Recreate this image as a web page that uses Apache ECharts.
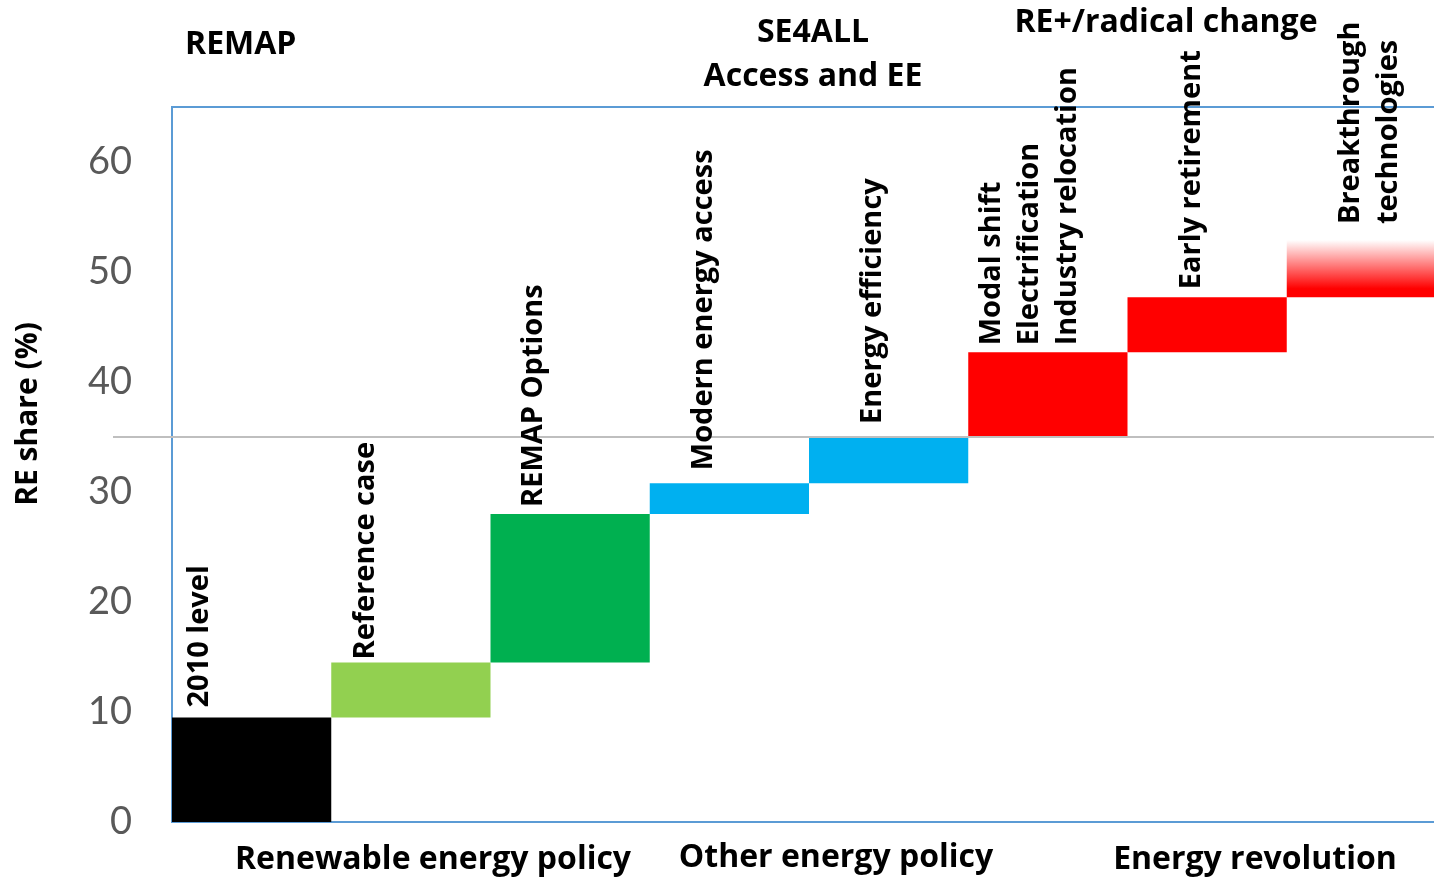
<!DOCTYPE html>
<html>
<head>
<meta charset="utf-8">
<script src="https://cdn.jsdelivr.net/npm/echarts@6/dist/echarts.min.js"></script>
<style>
  html, body { margin: 0; padding: 0; background: #ffffff; overflow: hidden; }
  /* the plot runs slightly past the right edge of the page */
  #chart { width: 1446px; height: 879px; }
</style>
</head>
<body>
<div id="chart"></div>
<script>
// Steps of the RE-share waterfall and the cumulative level (%) reached after each step
const steps = [
  '2010 level',
  'Reference case',
  'REMAP Options',
  'Modern energy access',
  'Energy efficiency',
  'Modal shift\nElectrification\nIndustry relocation',
  'Early retirement',
  'Breakthrough\ntechnologies'
];
const levels = [9.5, 14.5, 28.0, 30.8, 35.0, 42.7, 47.7, 52.9];
const yTicks = [0, 10, 20, 30, 40, 50, 60];
const referenceLevel = 35;
const yTitle = 'RE share (%)';
const topGroups = ['REMAP', 'SE4ALL\nAccess and EE', 'RE+/radical change'];
const bottomGroups = ['Renewable energy policy', 'Other energy policy', 'Energy revolution'];

// Styling
const TEXT_FONT = '"Open Sans", "DejaVu Sans", sans-serif';
const NUM_FONT = 'Lato, "Open Sans", sans-serif';
const barColors = [
  '#000000', '#92D050', '#00B050', '#00B0F0', '#00B0F0', '#FF0000', '#FF0000',
  new echarts.graphic.LinearGradient(0, 0, 0, 1, [
    { offset: 0, color: '#FFFFFF' },
    { offset: 0.85, color: '#FF0000' },
    { offset: 1, color: '#FF0000' }
  ])
];
// horizontal shift of each step caption from its bar centre, and gap above the bar (px)
const labelShift = [-52, -45, -36, -26, -16, -18, -15, 3];
const labelGap = [10, 3, 7, 13, 13, 7, 8, 16];

const bases = levels.map((v, i) => (i === 0 ? 0 : levels[i - 1]));
const increments = levels.map((v, i) => +(v - bases[i]).toFixed(2));

const chart = echarts.init(document.getElementById('chart'), null, { renderer: 'canvas' });

chart.setOption({
  animation: false,
  grid: {
    left: 172, top: 107, bottom: 57, right: 0,
    show: true, borderColor: '#5B9BD5', borderWidth: 2, backgroundColor: 'transparent'
  },
  xAxis: {
    type: 'category',
    data: steps,
    axisLine: { show: false },
    axisTick: { show: false },
    axisLabel: { show: false },
    splitLine: { show: false }
  },
  yAxis: {
    type: 'value',
    min: 0,
    max: 65,
    interval: 10,
    axisLine: { show: false },
    axisTick: { show: false },
    splitLine: { show: false },
    axisLabel: {
      showMaxLabel: false,
      margin: 40,
      color: '#595959',
      fontFamily: NUM_FONT,
      fontSize: 38,
      formatter: v => (yTicks.includes(v) ? String(v) : '')
    }
  },
  series: [
    {
      type: 'bar',
      stack: 'fall',
      silent: true,
      barCategoryGap: '0%',
      itemStyle: { color: 'rgba(0,0,0,0)' },
      data: bases
    },
    {
      type: 'bar',
      stack: 'fall',
      barCategoryGap: '0%',
      data: increments.map((v, i) => ({ value: v, itemStyle: { color: barColors[i] } }))
    }
  ]
});

// Captions standing on top of each step, reading bottom-to-top
const captions = steps.map((name, i) => {
  const p = chart.convertToPixel({ xAxisIndex: 0, yAxisIndex: 0 }, [i, levels[i]]);
  return {
    type: 'text',
    x: p[0] + labelShift[i],
    y: p[1] - labelGap[i],
    rotation: Math.PI / 2,
    z: 110,
    style: {
      text: name, fill: '#000000', font: 'bold 29px ' + TEXT_FONT,
      align: 'left', verticalAlign: 'middle', lineHeight: 38
    }
  };
});

const groupText = (text, x, y, align) => ({
  type: 'text',
  x: x, y: y,
  z: 110,
  style: {
    text: text, fill: '#000000', font: 'bold 32px ' + TEXT_FONT,
    align: align || 'center', verticalAlign: 'middle', lineHeight: 44
  }
});

// Reference line at the 35 % level, running from left of the axis across the plot
const yRef = chart.convertToPixel({ yAxisIndex: 0 }, referenceLevel);

chart.setOption({
  graphic: [
    {
      type: 'line',
      shape: { x1: 113, y1: yRef, x2: 1446, y2: yRef },
      style: { stroke: '#BFBFBF', lineWidth: 2 },
      z: 100
    },
    {
      type: 'text',
      x: 28, y: 414,
      rotation: Math.PI / 2,
      z: 110,
      style: {
        text: yTitle, fill: '#000000', font: 'bold 30px ' + TEXT_FONT,
        align: 'center', verticalAlign: 'middle'
      }
    },
    groupText(topGroups[0], 185, 45, 'left'),
    groupText(topGroups[1], 813, 55),
    groupText(topGroups[2], 1166, 23),
    groupText(bottomGroups[0], 433, 860),
    groupText(bottomGroups[1], 836, 858),
    groupText(bottomGroups[2], 1255, 860)
  ].concat(captions)
});
</script>
</body>
</html>
